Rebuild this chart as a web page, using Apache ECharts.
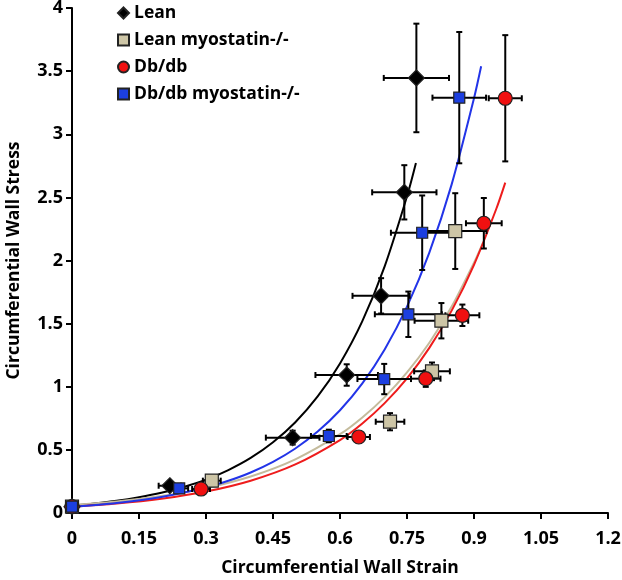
<!DOCTYPE html>
<html>
<head>
<meta charset="utf-8">
<script src="https://cdn.jsdelivr.net/npm/echarts@6/dist/echarts.min.js"></script>
<style>html,body{margin:0;padding:0;background:#fff}#c{width:622px;height:580px}</style>
</head>
<body>
<div id="c"></div>
<script>
// ---- data ----
var seriesNames = ['Lean', 'Lean myostatin-/-', 'Db/db', 'Db/db myostatin-/-'];

var leanX    = [0, 0.219, 0.494, 0.615, 0.692, 0.744, 0.771];
var leanY    = [0.05, 0.216, 0.597, 1.093, 1.72, 2.54, 3.446];
var leanXErr = [0.005, 0.025, 0.06, 0.07, 0.064, 0.072, 0.073];
var leanYErr = [0.02, 0.03, 0.055, 0.085, 0.14, 0.215, 0.43];

var leanMyoX    = [0, 0.313, 0.712, 0.806, 0.827, 0.858];
var leanMyoY    = [0.05, 0.256, 0.723, 1.122, 1.523, 2.233];
var leanMyoXErr = [0.005, 0.02, 0.032, 0.04, 0.06, 0.07];
var leanMyoYErr = [0.02, 0.03, 0.068, 0.07, 0.14, 0.30];

var dbX    = [0, 0.289, 0.642, 0.792, 0.874, 0.922, 0.970];
var dbY    = [0.05, 0.19, 0.602, 1.064, 1.566, 2.295, 3.285];
var dbXErr = [0.005, 0.02, 0.025, 0.033, 0.038, 0.04, 0.037];
var dbYErr = [0.02, 0.03, 0.04, 0.065, 0.085, 0.2, 0.5];

var dbMyoX    = [0, 0.24, 0.575, 0.699, 0.753, 0.784, 0.867];
var dbMyoY    = [0.05, 0.195, 0.61, 1.061, 1.574, 2.22, 3.29];
var dbMyoXErr = [0.005, 0.02, 0.04, 0.06, 0.075, 0.07, 0.06];
var dbMyoYErr = [0.02, 0.03, 0.05, 0.12, 0.18, 0.295, 0.52];

// fitted trend curves
var leanFitX = [0, 0.05, 0.1, 0.15, 0.2, 0.25, 0.3, 0.35, 0.4, 0.45, 0.5, 0.55, 0.6, 0.65, 0.7, 0.75, 0.77];
var leanFitY = [0.059, 0.076, 0.097, 0.125, 0.160, 0.206, 0.264, 0.340, 0.436, 0.560, 0.719, 0.923, 1.185, 1.52, 1.954, 2.509, 2.773];
var leanMyoFitX = [0, 0.1, 0.2, 0.3, 0.4, 0.5, 0.6, 0.65, 0.7, 0.75, 0.8, 0.85, 0.9, 0.92];
var leanMyoFitY = [0.062, 0.091, 0.134, 0.197, 0.289, 0.425, 0.624, 0.757, 0.918, 1.113, 1.349, 1.635, 1.983, 2.14];
var dbFitX = [0, 0.1, 0.2, 0.3, 0.4, 0.5, 0.6, 0.65, 0.7, 0.75, 0.8, 0.85, 0.9, 0.95, 0.97];
var dbFitY = [0.05, 0.075, 0.113, 0.170, 0.256, 0.385, 0.578, 0.709, 0.870, 1.066, 1.308, 1.603, 1.966, 2.41, 2.617];
var dbMyoFitX = [0, 0.1, 0.2, 0.3, 0.35, 0.4, 0.45, 0.5, 0.55, 0.6, 0.65, 0.7, 0.75, 0.8, 0.85, 0.9, 0.916];
var dbMyoFitY = [0.05, 0.080, 0.127, 0.202, 0.255, 0.321, 0.405, 0.511, 0.645, 0.814, 1.027, 1.296, 1.635, 2.063, 2.603, 3.285, 3.538];

var xTicks = [0, 0.15, 0.3, 0.45, 0.6, 0.75, 0.9, 1.05, 1.2];
var yTicks = [0, 0.5, 1, 1.5, 2, 2.5, 3, 3.5, 4];

// ---- build ----
function zip(a, b) { return a.map(function (v, i) { return [v, b[i]]; }); }
function errRows(x, y, xe, ye) { return x.map(function (v, i) { return [v, y[i], xe[i], ye[i]]; }); }

var allErr = [].concat(
  errRows(leanX, leanY, leanXErr, leanYErr),
  errRows(leanMyoX, leanMyoY, leanMyoXErr, leanMyoYErr),
  errRows(dbX, dbY, dbXErr, dbYErr),
  errRows(dbMyoX, dbMyoY, dbMyoXErr, dbMyoYErr)
);

var cap = 3;
function renderErr(params, api) {
  var x = api.value(0), y = api.value(1), xe = api.value(2), ye = api.value(3);
  var l = api.coord([x - xe, y]), r = api.coord([x + xe, y]);
  var t = api.coord([x, y + ye]), b = api.coord([x, y - ye]);
  var st = { stroke: '#000', lineWidth: 2 };
  return {
    type: 'group',
    children: [
      { type: 'line', shape: { x1: l[0], y1: l[1], x2: r[0], y2: r[1] }, style: st },
      { type: 'line', shape: { x1: l[0], y1: l[1] - cap, x2: l[0], y2: l[1] + cap }, style: st },
      { type: 'line', shape: { x1: r[0], y1: r[1] - cap, x2: r[0], y2: r[1] + cap }, style: st },
      { type: 'line', shape: { x1: t[0], y1: t[1], x2: b[0], y2: b[1] }, style: st },
      { type: 'line', shape: { x1: t[0] - cap, y1: t[1], x2: t[0] + cap, y2: t[1] }, style: st },
      { type: 'line', shape: { x1: b[0] - cap, y1: b[1], x2: b[0] + cap, y2: b[1] }, style: st }
    ]
  };
}

var FONT = 'Open Sans';
function fitLine(name, x, y, color, z) {
  return { name: name + ' fit', type: 'line', data: zip(x, y), smooth: 0.3, showSymbol: false,
    symbol: 'none', lineStyle: { color: color, width: 2 }, z: z, silent: true };
}
function pts(name, x, y, symbol, size, color) {
  return { name: name, type: 'scatter', data: zip(x, y), symbol: symbol, symbolSize: size,
    itemStyle: { color: color, borderColor: '#222', borderWidth: 1.2, opacity: 1 }, z: 10 };
}

var chart = echarts.init(document.getElementById('c'), null, { renderer: 'canvas' });
chart.setOption({
  animation: false,
  backgroundColor: '#fff',
  grid: { left: 72, right: 14, top: 8, bottom: 67, containLabel: false, outerBoundsMode: 'none' },
  legend: {
    orient: 'vertical', left: 117, top: 2, padding: 0, itemGap: 5, itemWidth: 11, itemHeight: 11,
    data: [
      { name: seriesNames[0], icon: 'diamond' },
      { name: seriesNames[1], icon: 'rect' },
      { name: seriesNames[2], icon: 'circle' },
      { name: seriesNames[3], icon: 'rect' }
    ],
    textStyle: { fontFamily: FONT, fontWeight: 'bold', fontSize: 17.5, lineHeight: 22, color: '#000', padding: [0, 0, 0, 0] }
  },
  xAxis: {
    type: 'value', min: 0, max: 1.2, interval: 0.15,
    name: 'Circumferential Wall Strain', nameLocation: 'middle', nameGap: 46,
    nameTextStyle: { fontFamily: FONT, fontWeight: 'bold', fontSize: 17.5, color: '#000' },
    axisLine: { show: true, onZero: false, lineStyle: { color: '#000', width: 2 } },
    axisTick: { show: true, length: 6, lineStyle: { color: '#000', width: 2 } },
    axisLabel: { fontFamily: FONT, fontWeight: 'bold', fontSize: 18, color: '#000', margin: 17,
      formatter: function (v) { return String(+v.toFixed(2)); } },
    splitLine: { show: false }
  },
  yAxis: {
    type: 'value', min: 0, max: 4, interval: 0.5,
    name: 'Circumferential Wall Stress', nameLocation: 'middle', nameGap: 49,
    nameTextStyle: { fontFamily: FONT, fontWeight: 'bold', fontSize: 17.5, color: '#000' },
    axisLine: { show: true, onZero: false, lineStyle: { color: '#000', width: 2 } },
    axisTick: { show: true, length: 6, lineStyle: { color: '#000', width: 2 } },
    axisLabel: { fontFamily: FONT, fontWeight: 'bold', fontSize: 18, color: '#000', margin: 9 },
    splitLine: { show: false }
  },
  series: [
    fitLine(seriesNames[0], leanFitX, leanFitY, '#000000', 3),
    fitLine(seriesNames[1], leanMyoFitX, leanMyoFitY, '#c4bb9c', 3),
    fitLine(seriesNames[2], dbFitX, dbFitY, '#ee1c1c', 4),
    fitLine(seriesNames[3], dbMyoFitX, dbMyoFitY, '#2234e8', 5),
    { name: 'err', type: 'custom', renderItem: renderErr, data: allErr, z: 6, silent: true,
      encode: { x: 0, y: 1 } },
    pts(seriesNames[0], leanX, leanY, 'diamond', 16, '#000000'),
    pts(seriesNames[1], leanMyoX, leanMyoY, 'rect', 13, '#cdc5a6'),
    pts(seriesNames[2], dbX, dbY, 'circle', 14, '#f01010'),
    pts(seriesNames[3], dbMyoX, dbMyoY, 'rect', 11, '#1c3fe0')
  ]
});
</script>
</body>
</html>
